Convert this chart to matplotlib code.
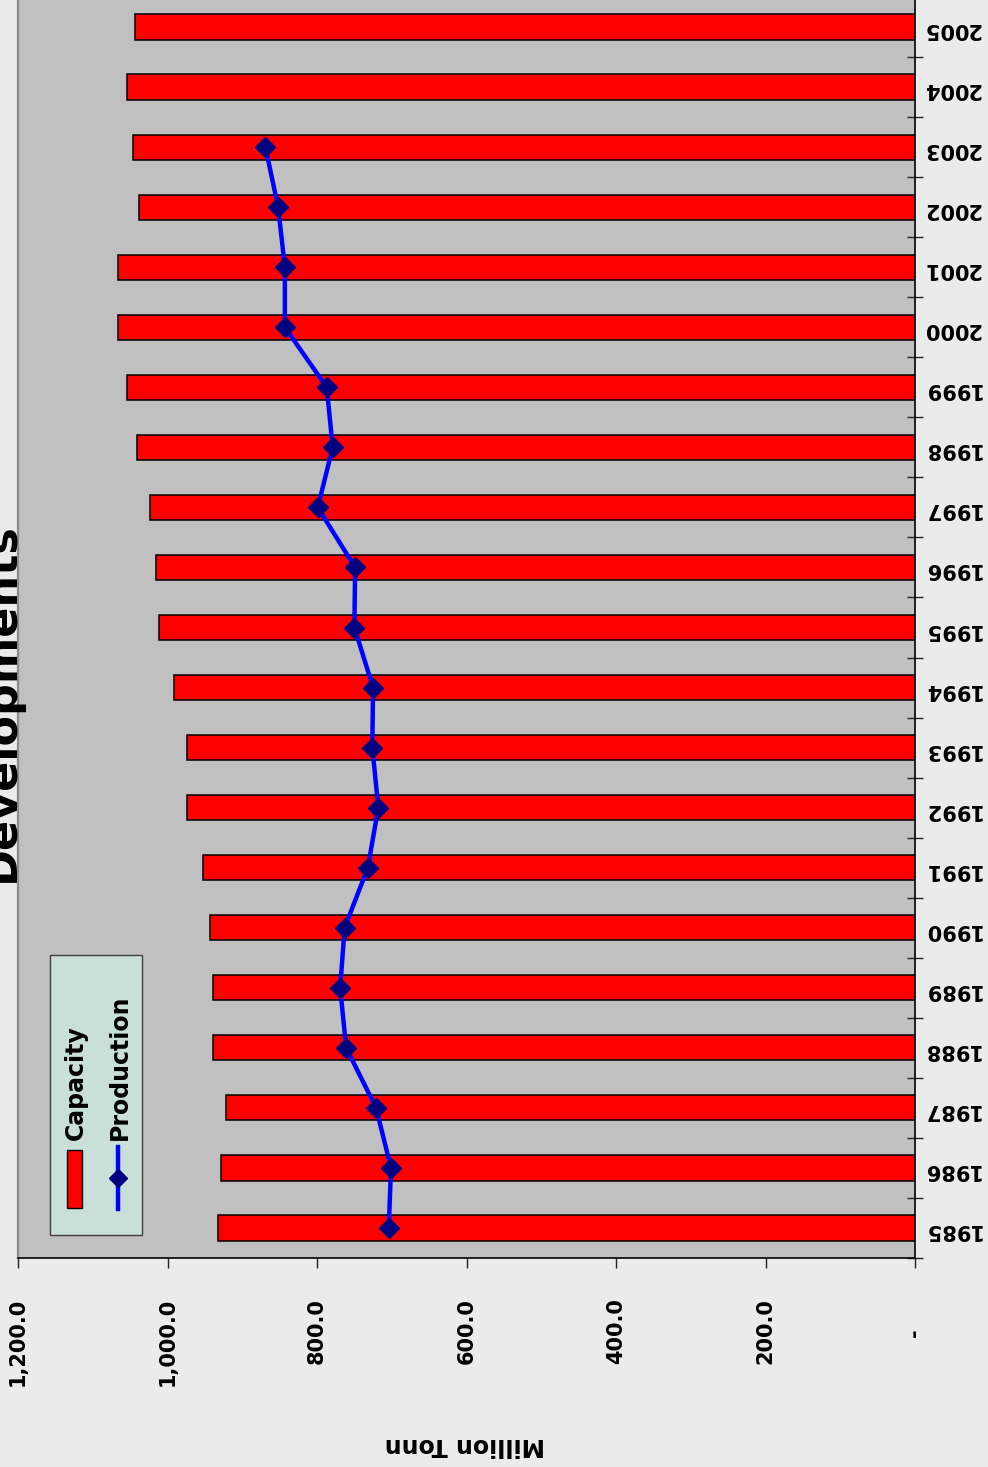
import matplotlib.pyplot as plt
from matplotlib.patches import Rectangle
from matplotlib.lines import Line2D
from matplotlib.transforms import blended_transform_factory

# data (million tonnes)
years = ['1985', '1986', '1987', '1988', '1989', '1990', '1991', '1992', '1993', '1994', '1995',
         '1996', '1997', '1998', '1999', '2000', '2001', '2002', '2003', '2004', '2005']
capacity = [932, 928, 922, 939, 939, 943, 952, 974, 974, 991, 1011,
            1015, 1023, 1041, 1054, 1066, 1066, 1038, 1046, 1054, 1044]
production = [704, 701, 721, 761, 769, 763, 732, 718, 726, 725, 750,
              749, 799, 779, 787, 843, 843, 852, 869]
value_ticks = [0, 200, 400, 600, 800, 1000, 1200]

W, H = 988, 1467


def fx(x):
    return x / W


def fy(y):
    return 1 - y / H


fig = plt.figure(figsize=(W / 100, H / 100), dpi=100, facecolor='#ebebeb')
ax = fig.add_axes([fx(18), fy(1258), (915 - 18) / W, 1261 / H])
ax.set_facecolor('#c0c0c0')

pos = list(range(len(years)))
ax.barh(pos, capacity, height=0.42, color='#ff0000', edgecolor='black', linewidth=1.1, zorder=2)
ax.plot(production, pos[:len(production)], color='#0000ff', linewidth=3.2,
        marker='D', markersize=10.5, markerfacecolor='#000080', markeredgecolor='#000080', zorder=3)

ax.set_xlim(1200, 0)
ax.set_ylim(-0.5, len(years) - 0.5)

# category axis on the right, labels turned upside down
ax.yaxis.tick_right()
ax.set_yticks(pos)
ax.set_yticklabels(years, rotation=180, fontsize=15, fontweight='bold')
ax.set_yticks([p - 0.5 for p in pos], minor=True)
ax.tick_params(axis='y', which='major', length=0, pad=5, left=False, right=True)
ax.tick_params(axis='y', which='minor', direction='inout', length=11, width=1,
               color='#222222', left=False, right=True)

# value axis: ticks only, labels drawn sideways below
ax.set_xticks(value_ticks)
ax.set_xticklabels([])
ax.tick_params(axis='x', direction='out', length=7, width=1, color='#222222')
trans = blended_transform_factory(ax.transData, fig.transFigure)
for v in value_ticks:
    if v == 0:
        ax.text(v, fy(1337), '-', transform=trans, rotation=90, rotation_mode='anchor',
                ha='left', va='center', fontsize=15, fontweight='bold')
    else:
        ax.text(v, fy(1298), f'{v:,.1f}', transform=trans, rotation=90, rotation_mode='anchor',
                ha='right', va='center', fontsize=15, fontweight='bold')

ax.spines['top'].set_visible(False)
ax.spines['left'].set_color('#8c8c8c')
ax.spines['left'].set_linewidth(1.6)
ax.spines['right'].set_linewidth(1.2)
ax.spines['bottom'].set_linewidth(1.2)

fig.text(fx(465), fy(1445), 'Million Tonn', rotation=180, ha='center', va='center',
         fontsize=17, fontweight='bold')
fig.text(fx(14), fy(702), 'Developments', rotation=90, rotation_mode='anchor',
         ha='center', va='baseline', fontsize=32, fontweight='bold', zorder=10)

# legend box
fig.add_artist(Rectangle((fx(50), fy(1235)), (142 - 50) / W, (1235 - 955) / H,
                         transform=fig.transFigure, facecolor='#c9e0d9', edgecolor='#404040',
                         linewidth=1, zorder=5))
fig.add_artist(Rectangle((fx(67), fy(1208)), 15 / W, 58 / H, transform=fig.transFigure,
                         facecolor='#ff0000', edgecolor='black', linewidth=1, zorder=6))
fig.add_artist(Line2D([fx(118), fx(118)], [fy(1147), fy(1209)], transform=fig.transFigure,
                      color='#0000ff', linewidth=3.2, zorder=6))
fig.add_artist(Line2D([fx(118)], [fy(1178)], transform=fig.transFigure, marker='D',
                      markersize=9, markerfacecolor='#000080', markeredgecolor='#000080', zorder=7))
fig.text(fx(83), fy(1140), 'Capacity', rotation=90, rotation_mode='anchor', ha='left',
         va='baseline', fontsize=17, fontweight='bold', zorder=7)
fig.text(fx(127), fy(1140), 'Production', rotation=90, rotation_mode='anchor', ha='left',
         va='baseline', fontsize=17, fontweight='bold', zorder=7)

fig.savefig('out.png', dpi=100, facecolor=fig.get_facecolor())
